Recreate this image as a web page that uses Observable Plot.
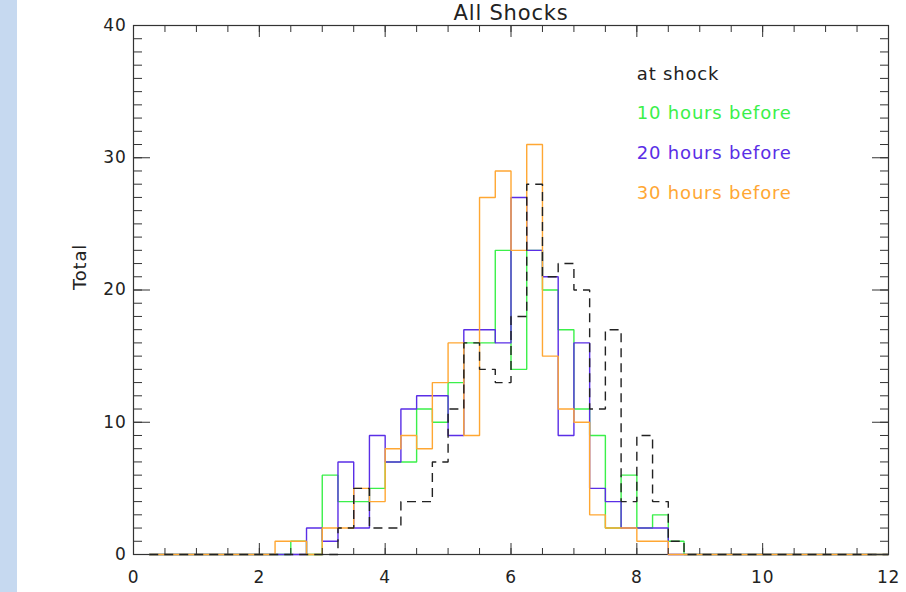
<!DOCTYPE html>
<html>
<head>
<meta charset="utf-8">
<script src="https://cdn.jsdelivr.net/npm/d3@7"></script>
<script src="https://cdn.jsdelivr.net/npm/@observablehq/plot@0.6"></script>
<style>
  html, body { margin: 0; padding: 0; background: #ffffff; }
  #strip { position: absolute; left: 0; top: 0; width: 17px; height: 592px; background: #c6d9f0; }
  #chart { position: absolute; left: 0; top: 0; }
</style>
</head>
<body>
<div id="strip"></div>
<div id="chart"></div>
<script>
// ---- data ----
const title = "All Shocks";
const yLabel = "Total";
const seriesNames = ["at shock", "10 hours before", "20 hours before", "30 hours before"];
const seriesColors = ["#222222", "#3bf04a", "#5a2ee6", "#ffa733"];
const binWidth = 0.25;
const histStart = 0.25;   // first bin edge drawn
const histEnd = 12;       // last bin edge drawn
const firstBin = 2.25;    // left edge of the first listed bin below
// counts per 0.25-wide bin, bins 2.25 ... 8.50 (all other bins are 0)
const atShock  = [0,0,0,0,2,5,2,2,4,4,7,11,16,14,13,18,28,21,22,20,11,17,4,9,4,1];
const before10 = [0,1,0,6,4,4,5,7,7,11,10,13,16,16,23,14,23,20,17,11,9,2,6,2,3,1];
const before20 = [0,0,2,1,7,2,9,7,11,12,12,9,17,17,16,27,23,21,9,16,5,4,2,2,2,0];
const before30 = [1,1,0,2,2,5,4,8,9,8,13,16,9,27,29,23,31,15,11,10,3,2,2,1,1,0];
const xTicksMajor = [0, 2, 4, 6, 8, 10, 12];
const yTicksMajor = [0, 10, 20, 30, 40];

// ---- build step tables ----
function buildSeries(name, vals) {
  const pts = [];
  const n = Math.round((histEnd - histStart) / binWidth);
  for (let i = 0; i < n; i++) {
    const edge = histStart + i * binWidth;
    const k = Math.round((edge - firstBin) / binWidth);
    pts.push({series: name, x: edge, y: (k >= 0 && k < vals.length) ? vals[k] : 0});
  }
  pts.push({series: name, x: histEnd, y: 0});
  return pts;
}
const seriesValues = [atShock, before10, before20, before30];
const tables = seriesNames.map((n, i) => buildSeries(n, seriesValues[i]));

const xMinor = d3.range(0, 12.001, 0.5);
const yMinor = d3.range(0, 40.001, 1);
const lineOpts = {x: "x", y: "y", curve: "step-after", strokeWidth: 1.4, strokeLinejoin: "miter", strokeLinecap: "butt"};
const blank = () => "";

const chart = Plot.plot({
  width: 906,
  height: 592,
  marginLeft: 133,
  marginRight: 18,
  marginTop: 25,
  marginBottom: 38,
  x: {domain: [0, 12], label: null},
  y: {domain: [0, 40], label: null},
  style: {fontFamily: "'DejaVu Sans', sans-serif", fontSize: "17px", color: "#222", background: "transparent", overflow: "visible"},
  marks: [
    Plot.frame({stroke: "#333", strokeWidth: 1.2}),
    // histograms: green, purple, orange, then dashed black on top
    Plot.line(tables[1], {...lineOpts, stroke: seriesColors[1]}),
    Plot.line(tables[2], {...lineOpts, stroke: seriesColors[2]}),
    Plot.line(tables[3], {...lineOpts, stroke: seriesColors[3]}),
    Plot.line(tables[0], {...lineOpts, stroke: seriesColors[0], strokeDasharray: "9,6"}),
    // ticks (inward) on all four sides
    Plot.axisX(xMinor, {anchor: "bottom", tickSize: -6, tickFormat: blank, label: null, stroke: "#333"}),
    Plot.axisX(xTicksMajor, {anchor: "bottom", tickSize: -11, tickFormat: blank, label: null, stroke: "#333"}),
    Plot.axisX(xMinor, {anchor: "top", tickSize: -6, tickFormat: blank, label: null, stroke: "#333"}),
    Plot.axisX(xTicksMajor, {anchor: "top", tickSize: -11, tickFormat: blank, label: null, stroke: "#333"}),
    Plot.axisY(yMinor, {anchor: "left", tickSize: -9, tickFormat: blank, label: null, stroke: "#333"}),
    Plot.axisY(yTicksMajor, {anchor: "left", tickSize: -17, tickFormat: blank, label: null, stroke: "#333"}),
    Plot.axisY(yMinor, {anchor: "right", tickSize: -9, tickFormat: blank, label: null, stroke: "#333"}),
    Plot.axisY(yTicksMajor, {anchor: "right", tickSize: -17, tickFormat: blank, label: null, stroke: "#333"}),
    // tick labels
    Plot.axisX(xTicksMajor, {anchor: "bottom", tickSize: 0, tickPadding: 16, label: null, fill: "#222", fontSize: 17}),
    Plot.axisY(yTicksMajor, {anchor: "left", tickSize: 0, tickPadding: 7, label: null, fill: "#222", fontSize: 17}),
    // legend
    Plot.text(seriesNames, {
      x: () => 8.0,
      y: (d, i) => 35.9 - 3 * i,
      text: d => d,
      fill: (d, i) => seriesColors[i],
      textAnchor: "start",
      lineAnchor: "bottom",
      fontSize: 18
    }),
    // title
    Plot.text([title], {frameAnchor: "top", text: d => d, lineAnchor: "bottom", dy: -6, fontSize: 21, fill: "#222"}),
    // y label
    Plot.text([yLabel], {frameAnchor: "left", text: d => d, rotate: -90, dx: -53, fontSize: 18, fill: "#222"})
  ]
});

// letter spacing to mimic the wide vector font
d3.select(chart).selectAll("text").style("letter-spacing", "0.8px");
document.getElementById("chart").appendChild(chart);
</script>
</body>
</html>
